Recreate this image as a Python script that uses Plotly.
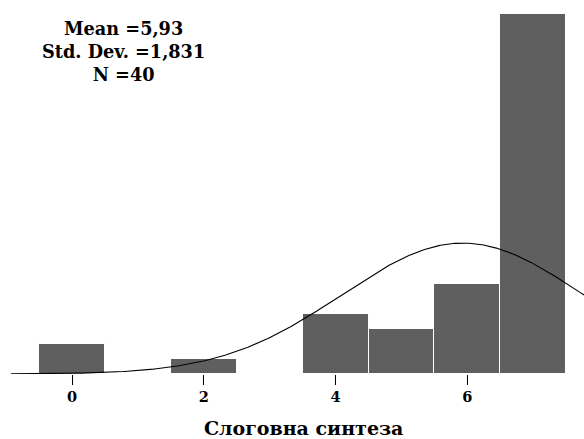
import numpy as np
import plotly.graph_objects as go

# Histogram counts per score
scores = [0, 2, 4, 5, 6, 7]
counts = [2, 1, 4, 3, 6, 24]
tick_values = [0, 2, 4, 6]
tick_labels = ["0", "2", "4", "6"]

mean_val = 5.93
std_val = 1.831
n_val = 40
stats_lines = ["Mean =5,93", "Std. Dev. =1,831", "N =40"]
x_title = "Слоговна синтеза"

x_min, x_max = -0.926, 7.77
y_max = 24.9

font_family = "DejaVu Serif"

# Fitted normal curve scaled to counts (bin width 1)
xs = np.linspace(x_min, x_max, 400)
ys = n_val * np.exp(-0.5 * ((xs - mean_val) / std_val) ** 2) / (std_val * np.sqrt(2 * np.pi))

fig = go.Figure()
fig.add_trace(go.Bar(
    x=scores, y=counts, width=1.0,
    marker=dict(color="#5f5f5f", line=dict(color="white", width=1)),
    hoverinfo="skip",
))
fig.add_trace(go.Scatter(
    x=xs, y=ys, mode="lines",
    line=dict(color="black", width=1.1),
    hoverinfo="skip",
))

fig.add_annotation(
    x=0.78, y=21.5, xref="x", yref="y",
    text="<br>".join(f"<b>{line}</b>" for line in stats_lines),
    showarrow=False, align="center",
    font=dict(family=font_family, size=17.7, color="black"),
    xanchor="center", yanchor="middle",
)

fig.add_annotation(
    x=3.52, y=-0.145, xref="x", yref="paper",
    text=f"<b>{x_title}</b>", showarrow=False,
    font=dict(family=font_family, size=19, color="black"),
    xanchor="center", yanchor="middle",
)

fig.update_layout(
    width=584, height=439,
    margin=dict(l=11, r=0, t=0, b=65),
    paper_bgcolor="white", plot_bgcolor="white",
    showlegend=False,
    bargap=0,
)
fig.update_xaxes(
    range=[x_min, x_max],
    tickvals=tick_values, ticktext=[f"<b>{t}</b>" for t in tick_labels],
    ticks="outside", ticklen=10, tickwidth=1, tickcolor="black",
    showline=False, zeroline=False, showgrid=False,
    tickfont=dict(family=font_family, size=14.5, color="black"),
)
fig.update_yaxes(
    range=[0, y_max], visible=False, showgrid=False, zeroline=False,
)

fig.write_html("out.html")
